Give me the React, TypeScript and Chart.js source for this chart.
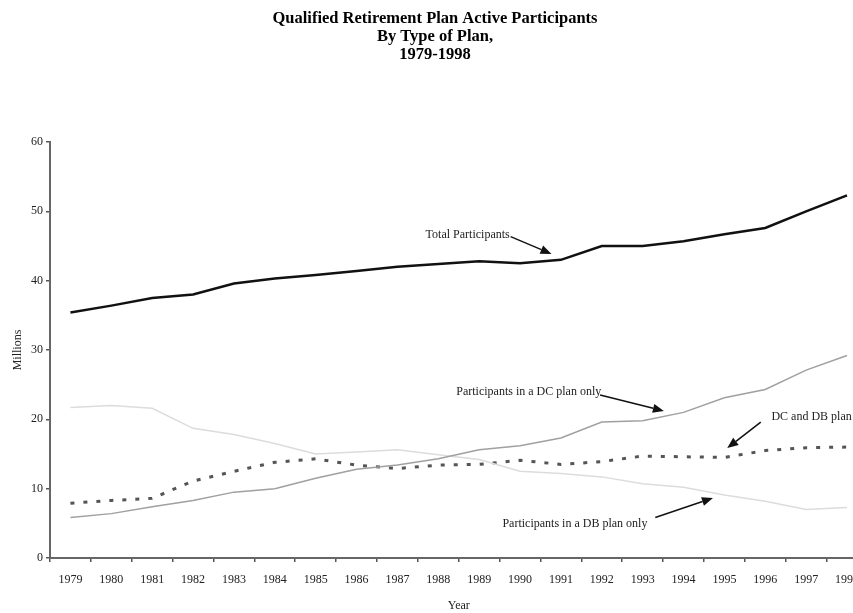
import React, { useEffect, useRef } from "react";
import { Chart, registerables } from "chart.js";

Chart.register(...registerables);

const years = ["1979","1980","1981","1982","1983","1984","1985","1986","1987","1988","1989","1990","1991","1992","1993","1994","1995","1996","1997","1998"];
const totalParticipants = [35.4,36.4,37.5,38.0,39.6,40.3,40.8,41.4,42.0,42.4,42.8,42.5,43.0,45.0,45.0,45.7,46.7,47.6,50.0,52.3];
const dcOnly = [5.85,6.4,7.4,8.3,9.5,10.0,11.5,12.8,13.4,14.3,15.6,16.2,17.3,19.6,19.8,21.0,23.1,24.3,27.1,29.2];
const dbOnly = [21.7,22.0,21.6,18.7,17.8,16.5,15.0,15.3,15.6,14.9,14.2,12.5,12.2,11.7,10.7,10.2,9.1,8.2,7.0,7.3];
const dcAndDb = [7.9,8.3,8.6,11.1,12.5,13.8,14.3,13.4,12.9,13.4,13.5,14.1,13.5,13.9,14.7,14.6,14.5,15.5,15.9,16.0];
const yTicks = [0, 10, 20, 30, 40, 50, 60];
const titleLines = ["Qualified Retirement Plan Active Participants", "By Type of Plan,", "1979-1998"];

// annotation text + arrow in data units (x = category index, y = millions)
const annotLabels = ["Total Participants", "Participants in a DC plan only", "DC and DB plan", "Participants in a DB plan only"];
const annotTextX = [8.69, 9.44, 17.15, 10.57];
const annotTextY = [46.6, 24.0, 20.4, 4.9];
const arrowFromX = [10.77, 12.96, 16.89, 14.31];
const arrowFromY = [46.35, 23.5, 19.6, 5.85];
const arrowToX = [11.77, 14.52, 16.07, 15.72];
const arrowToY = [43.85, 21.2, 15.85, 8.65];

const SERIF = "'Liberation Serif', 'Times New Roman', serif";

const annotationPlugin = {
  id: "annotArrows",
  afterDatasetsDraw(chart: any) {
    const { ctx, scales } = chart;
    const xs = scales.x;
    const ys = scales.y;
    const px = (i: number) => {
      const a = xs.getPixelForValue(0);
      const b = xs.getPixelForValue(1);
      return a + (b - a) * i;
    };
    ctx.save();
    ctx.font = `12px ${SERIF}`;
    ctx.fillStyle = "#222";
    ctx.textBaseline = "middle";
    ctx.textAlign = "left";
    for (let k = 0; k < annotLabels.length; k++) {
      ctx.fillText(annotLabels[k], px(annotTextX[k]), ys.getPixelForValue(annotTextY[k]));
      const x1 = px(arrowFromX[k]);
      const y1 = ys.getPixelForValue(arrowFromY[k]);
      const x2 = px(arrowToX[k]);
      const y2 = ys.getPixelForValue(arrowToY[k]);
      const ang = Math.atan2(y2 - y1, x2 - x1);
      const hl = 11;
      const hw = 4.5;
      const bx = x2 - hl * Math.cos(ang);
      const by = y2 - hl * Math.sin(ang);
      ctx.strokeStyle = "#111";
      ctx.lineWidth = 1.5;
      ctx.beginPath();
      ctx.moveTo(x1, y1);
      ctx.lineTo(bx, by);
      ctx.stroke();
      ctx.fillStyle = "#111";
      ctx.beginPath();
      ctx.moveTo(x2, y2);
      ctx.lineTo(bx + hw * Math.sin(ang), by - hw * Math.cos(ang));
      ctx.lineTo(bx - hw * Math.sin(ang), by + hw * Math.cos(ang));
      ctx.closePath();
      ctx.fill();
      ctx.fillStyle = "#222";
    }
    ctx.restore();
  },
};

export default function App() {
  const ref = useRef<HTMLCanvasElement | null>(null);
  useEffect(() => {
    if (!ref.current) return;
    const chart = new Chart(ref.current, {
      type: "line",
      data: {
        labels: years,
        datasets: [
          { label: "Total Participants", data: totalParticipants, borderColor: "#111", borderWidth: 2.5, pointRadius: 0, tension: 0 },
          { label: "Participants in a DC plan only", data: dcOnly, borderColor: "#a0a0a0", borderWidth: 1.5, pointRadius: 0, tension: 0 },
          { label: "Participants in a DB plan only", data: dbOnly, borderColor: "#dcdcdc", borderWidth: 1.5, pointRadius: 0, tension: 0 },
          { label: "DC and DB plan", data: dcAndDb, borderColor: "#555", borderWidth: 3, borderDash: [4, 9], pointRadius: 0, tension: 0 },
        ],
      },
      options: {
        responsive: false,
        animation: false,
        devicePixelRatio: 1,
        layout: { padding: { left: 0, right: 0, top: 0, bottom: 0 } },
        plugins: {
          legend: { display: false },
          tooltip: { enabled: false },
          title: {
            display: true,
            text: titleLines,
            color: "#000",
            font: { family: SERIF, size: 16.5, weight: "bold", lineHeight: 18 / 16.5 },
            padding: { top: 10, bottom: 78 },
          },
        },
        scales: {
          x: {
            type: "category",
            offset: true,
            grid: { display: true, drawOnChartArea: false, drawTicks: true, tickLength: 4, offset: true, color: "#555", lineWidth: 1.5 },
            border: { display: true, color: "#666", width: 2 },
            ticks: { color: "#222", font: { family: SERIF, size: 12 }, padding: 11, maxRotation: 0, autoSkip: false },
            title: { display: true, text: "Year", color: "#222", font: { family: SERIF, size: 12 }, padding: { top: 0, bottom: 0 } },
            afterFit: (scale: any) => { scale.height = 613 - 558; },
          },
          y: {
            min: 0,
            max: 60,
            afterBuildTicks: (scale: any) => { scale.ticks = yTicks.map((v) => ({ value: v })); },
            grid: { display: true, drawOnChartArea: false, drawTicks: true, tickLength: 4, color: "#555", lineWidth: 1.5 },
            border: { display: true, color: "#666", width: 2 },
            ticks: { color: "#222", font: { family: SERIF, size: 12 }, padding: 3 },
            title: { display: true, text: "Millions", color: "#222", font: { family: SERIF, size: 12 }, padding: { top: 11, bottom: 0 } },
            afterFit: (scale: any) => { scale.width = 50; },
          },
        },
      },
      plugins: [annotationPlugin],
    } as any);
    return () => chart.destroy();
  }, []);
  return (
    <div style={{ position: "fixed", left: 0, top: 0, width: 853, height: 613, overflow: "hidden", background: "#fff" }}>
      <canvas ref={ref} width={870} height={613} style={{ display: "block", width: 870, height: 613 }} />
    </div>
  );
}
